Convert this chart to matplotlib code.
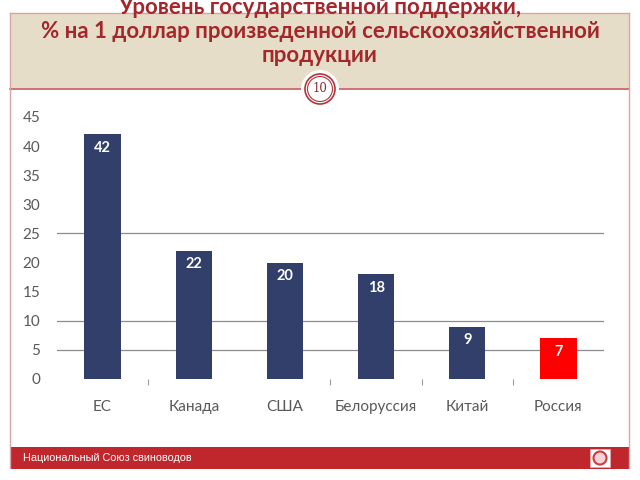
import matplotlib as mpl
import matplotlib.pyplot as plt
from matplotlib.patches import Rectangle, Circle

# данные
countries = ['ЕС', 'Канада', 'США', 'Белоруссия', 'Китай', 'Россия']
values = [42, 22, 20, 18, 9, 7]
bar_colors = ['#323f6a', '#323f6a', '#323f6a', '#323f6a', '#323f6a', '#ff0000']
grid_levels = [5, 10, 25]
yticks = [0, 5, 10, 15, 20, 25, 30, 35, 40, 45]

title_lines = ['Уровень государственной поддержки,',
               '% на 1 доллар произведенной сельскохозяйственной',
               'продукции']
footer_text = 'Национальный Союз свиноводов'
slide_num = '10'

W, H = 640, 480
dpi = 100
fig = plt.figure(dpi=dpi, figsize=(W / dpi, H / dpi))
fig.patch.set_facecolor('white')
mpl.rcParams['font.family'] = ['Lato', 'DejaVu Sans']


def px(x, y):
    # пиксели -> координаты фигуры
    return x / W, 1 - y / H


# рамка слайда
frame_col = '#d9a5a8'
fig.add_artist(Rectangle(px(10, 88), 619 / W, 75 / H, transform=fig.transFigure,
                         facecolor='#e6ddc9', edgecolor='none', zorder=0))
fig.add_artist(plt.Line2D([10 / W, 629 / W], [1 - 13 / H, 1 - 13 / H],
                          transform=fig.transFigure, color=frame_col, lw=1))
fig.add_artist(plt.Line2D([10 / W, 629 / W], [1 - 89 / H, 1 - 89 / H],
                          transform=fig.transFigure, color='#c8585c', lw=1.2))
fig.add_artist(plt.Line2D([10 / W, 10 / W], [1 - 13 / H, 1 - 468 / H],
                          transform=fig.transFigure, color=frame_col, lw=1))
fig.add_artist(plt.Line2D([629 / W, 629 / W], [1 - 13 / H, 1 - 468 / H],
                          transform=fig.transFigure, color=frame_col, lw=1))

# заголовок (первая строка срезана верхним краем, как на слайде)
title_col = '#a3272b'
for i, line in enumerate(title_lines):
    fig.text(0.5, 1 - (7 + 24.5 * i) / H, line, ha='center', va='center',
             fontsize=16, fontweight='bold', color=title_col)

# номер слайда в кружке
cx, cy = px(320, 89)
fig.add_artist(Circle((cx * W, cy * H), 19, transform=None, facecolor='white',
                      edgecolor='none', zorder=3))
fig.add_artist(Circle((cx * W, cy * H), 15, transform=None, facecolor='white',
                      edgecolor='#b3343a', lw=1.2, zorder=4))
fig.add_artist(Circle((cx * W, cy * H), 12.5, transform=None, facecolor='none',
                      edgecolor='#b3343a', lw=0.8, zorder=4))
fig.text(cx, cy, slide_num, ha='center', va='center', fontsize=8.5,
         family='DejaVu Serif', color='#8a2a2e', zorder=5)

# нижняя полоса
fig.add_artist(Rectangle(px(10, 469), 619 / W, 22 / H, transform=fig.transFigure,
                         facecolor='#c0272d', edgecolor='none', zorder=1))
fig.text(23 / W, 1 - 458 / H, footer_text, ha='left', va='center', fontsize=7.8,
         family='Liberation Sans', color='white')
fig.add_artist(Rectangle(px(590, 467), 20 / W, 18 / H, transform=fig.transFigure,
                         facecolor='white', edgecolor='#e0b0b0', lw=0.5, zorder=2))
fig.add_artist(Circle((600, H - 458), 6.5, transform=None, facecolor='#f4d4d4',
                      edgecolor='#d03a40', lw=1.5, zorder=3))

# график
ax = fig.add_axes([57 / W, 1 - 379 / H, 547 / W, 262 / H])
xs = range(len(countries))
ax.bar(xs, values, width=0.4, color=bar_colors, zorder=2)
for x, v in zip(xs, values):
    ax.text(x, v - 2.3, str(v), ha='center', va='center', color='white',
            fontsize=10.5, fontweight='bold', zorder=3)

for g in grid_levels:
    ax.axhline(g, color='#8c8c8c', lw=0.9, zorder=1)

ax.set_xlim(-0.5, 5.5)
ax.set_ylim(0, 45)
ax.set_yticks(yticks)
ax.set_xticks(list(xs))
ax.set_xticklabels(countries)
ax.tick_params(axis='both', length=0, labelsize=11, colors='#595959')
ax.tick_params(axis='y', pad=12)
ax.tick_params(axis='x', pad=15)
ax.set_xticks([0.5, 2.5, 3.5, 4.5], minor=True)
ax.tick_params(axis='x', which='minor', length=4, width=0.8, color='#9a9a9a')
for s in ax.spines.values():
    s.set_visible(False)
ax.set_facecolor('none')

plt.savefig('out.png', dpi=dpi)
